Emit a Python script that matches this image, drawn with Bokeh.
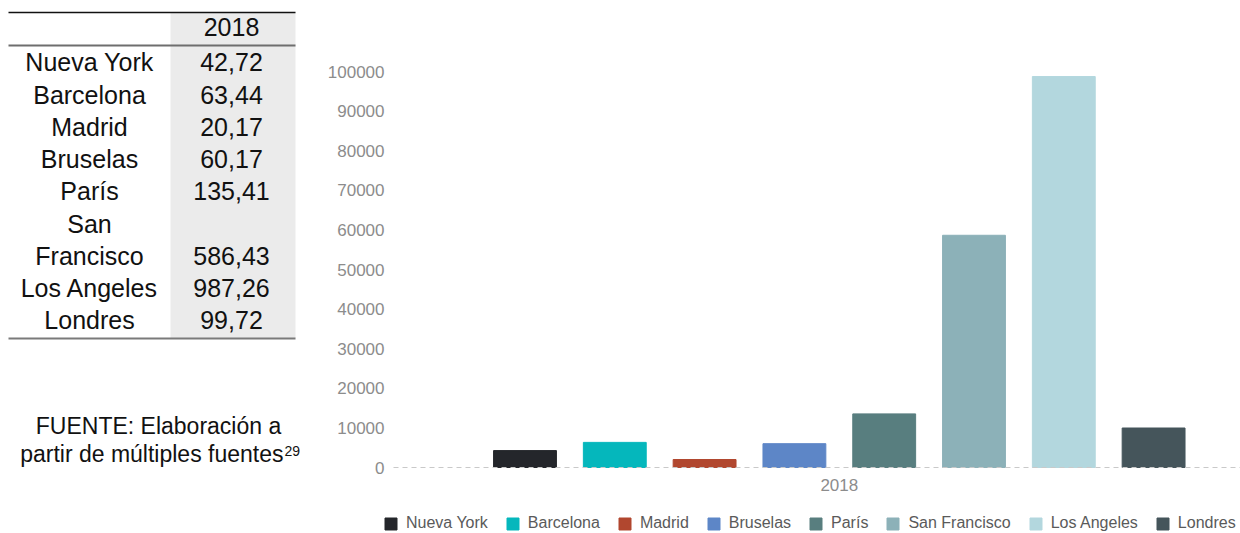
from bokeh.plotting import figure
from bokeh.models import (Range1d, FixedTicker, ColumnDataSource, Legend,
                          LegendItem, BasicTickFormatter, LinearAxis)
from bokeh.embed import file_html
from bokeh.resources import INLINE
from bokeh.core.properties import value

# ---------------- data ----------------
cities = ["Nueva York", "Barcelona", "Madrid", "Bruselas", "París",
          "San Francisco", "Los Angeles", "Londres"]
chart_values = [4272, 6344, 2017, 6017, 13541, 58643, 98726, 9972]
bar_colors = ["#24262b", "#05b7bc", "#b1472f", "#5d86c7", "#587e7f",
              "#8cb1b8", "#b3d7de", "#45555b"]
y_ticks = [0, 10000, 20000, 30000, 40000, 50000, 60000, 70000, 80000, 90000, 100000]
x_group_label = "2018"

table_header = "2018"
table_labels = ["Nueva York", "Barcelona", "Madrid", "Bruselas", "París",
                "San", "Francisco", "Los Angeles", "Londres"]
table_values = ["42,72", "63,44", "20,17", "60,17", "135,41",
                "", "586,43", "987,26", "99,72"]
source_lines = ["FUENTE: Elaboración a", "partir de múltiples fuentes"]
source_note = "29"

FONT = "Liberation Sans"
W, H = 1240, 533

# ---------------- layout constants (pixels) ----------------
chart_left_px = 393                 # where the chart area starts
zero_px, top_px = 467, 71           # pixel rows of 0 and 100000
first_center_px, step_px = 524.5, 89.8

ppu = (zero_px - top_px) / 100000.0
y_start = -(H - zero_px) / ppu
y_end = 100000 + top_px / ppu
x_start = -first_center_px / step_px
x_end = (W - first_center_px) / step_px
x_chart_left = (chart_left_px - first_center_px) / step_px

p = figure(width=W, height=H, x_range=Range1d(x_start, x_end),
           y_range=Range1d(y_start, y_end), output_backend="svg",
           toolbar_location=None, x_axis_location=None, y_axis_location=None,
           min_border=0)
p.outline_line_color = None
p.grid.visible = False
# pixel-like coordinate system (y downward) for the table on the left
p.extra_x_ranges = {"px": Range1d(0, W)}
p.extra_y_ranges = {"px": Range1d(H, 0)}

# ---------------- chart ----------------
src = ColumnDataSource(dict(x=list(range(len(cities))), value=chart_values,
                            city=cities, color=bar_colors))
r = p.vbar(x="x", top="value", bottom=0, width=0.70, source=src,
           fill_color="color", line_color="color")

ya = LinearAxis(fixed_location=x_chart_left)
ya.ticker = FixedTicker(ticks=y_ticks)
ya.formatter = BasicTickFormatter(use_scientific=False)
ya.axis_line_color = None
ya.major_tick_line_color = None
ya.minor_tick_line_color = None
ya.major_tick_out = 0
ya.major_tick_in = 0
ya.major_label_standoff = 9
ya.major_label_text_font = FONT
ya.major_label_text_font_size = "17px"
ya.major_label_text_color = "#8c8c8c"
p.add_layout(ya, "left")

center = (len(cities) - 1) / 2
xa = LinearAxis(fixed_location=0, bounds=(x_chart_left, x_end))
xa.ticker = FixedTicker(ticks=[center])
xa.major_label_overrides = {center: x_group_label}
xa.axis_line_color = "#c9c9c9"
xa.axis_line_dash = "5 4"
xa.axis_line_width = 1
xa.major_tick_line_color = None
xa.minor_tick_line_color = None
xa.major_tick_out = 0
xa.major_tick_in = 0
xa.major_label_standoff = 11
xa.major_label_text_font = FONT
xa.major_label_text_font_size = "17px"
xa.major_label_text_color = "#8c8c8c"
p.add_layout(xa, "below")

items = [LegendItem(label=city, renderers=[r], index=i) for i, city in enumerate(cities)]
legend = Legend(items=items, orientation="horizontal", location=(383, 1),
                margin=0, padding=0, spacing=17, label_standoff=8,
                glyph_width=15, glyph_height=15, label_height=15,
                label_text_font=FONT, label_text_font_size="16px",
                label_text_color="#5a5a5a", border_line_color=None,
                background_fill_alpha=0)
p.add_layout(legend)

# ---------------- table (left) ----------------
tab_left, tab_mid, tab_right = 8, 170, 295
tab_top, head_line, tab_bottom = 12, 45, 338
p.quad(left=[tab_mid], right=[tab_right], top=[tab_top], bottom=[tab_bottom],
       fill_color="#ebebeb", line_color=None,
       x_range_name="px", y_range_name="px")
p.segment(x0=[tab_left], y0=[tab_top], x1=[tab_right], y1=[tab_top],
          line_color="#111111", line_width=1.5, x_range_name="px", y_range_name="px")
p.segment(x0=[tab_left], y0=[head_line], x1=[tab_right], y1=[head_line],
          line_color="#6e6e6e", line_width=2, x_range_name="px", y_range_name="px")
p.segment(x0=[tab_left], y0=[tab_bottom], x1=[tab_right], y1=[tab_bottom],
          line_color="#7a7a7a", line_width=2, x_range_name="px", y_range_name="px")

BASE_SHIFT = 0.41   # renderer places the alphabetic baseline ~0.41em below y

def texts(xs, baselines, tx, size, align):
    ys = [b - BASE_SHIFT * size for b in baselines]
    p.text(x=xs, y=ys, text=tx, text_font=value(FONT),
           text_font_size="%gpx" % size,
           text_align=align, text_baseline="alphabetic", text_color="#111111",
           x_range_name="px", y_range_name="px")

label_x, value_x = 89, 231
row0, row_step = 72, 32.25
rows_base = [row0 + row_step * i for i in range(len(table_labels))]

texts([value_x], [37], [table_header], 25, "center")
texts([label_x] * len(table_labels), rows_base, table_labels, 25, "center")
texts([value_x] * len(table_values), rows_base, table_values, 25, "center")
texts([158], [435], [source_lines[0]], 23, "center")
texts([283], [463], [source_lines[1]], 23, "right")
texts([284], [456], [source_note], 14, "left")

open("out.html", "w").write(file_html(p, INLINE))
